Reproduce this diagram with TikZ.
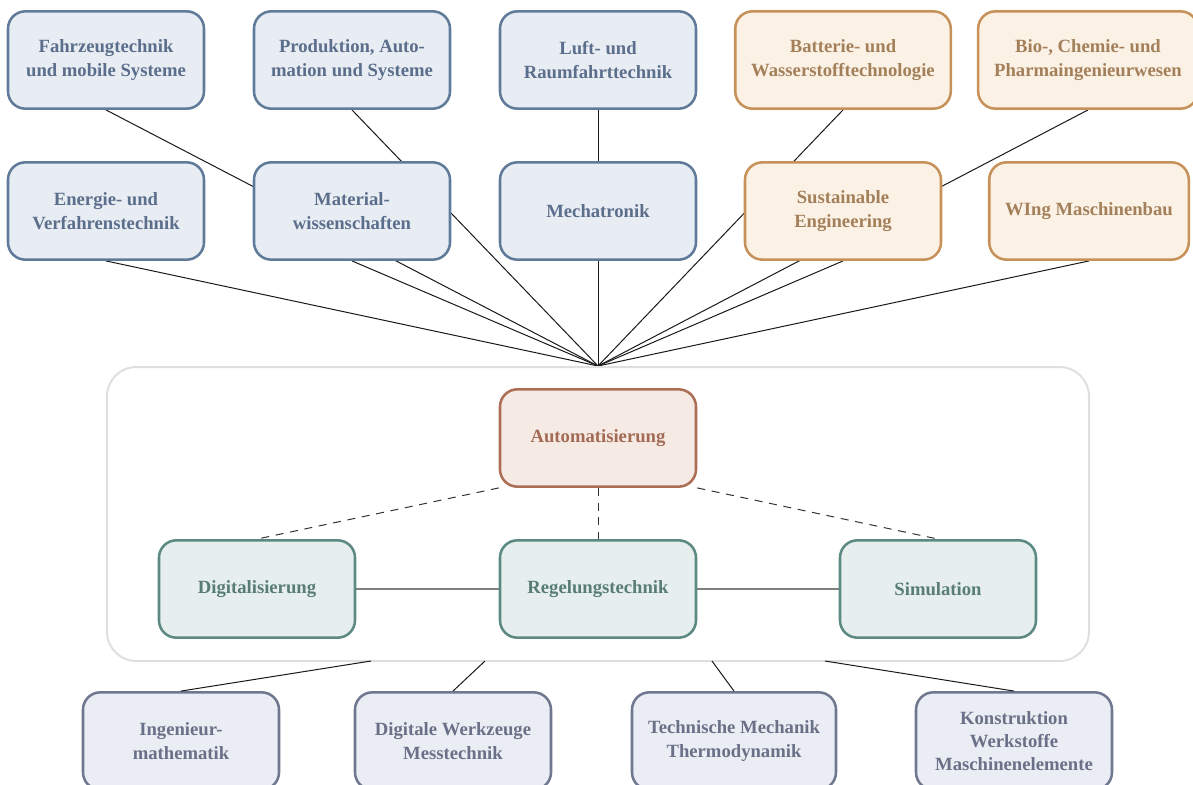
\documentclass[tikz,border=0pt]{standalone}
\usepackage{fontspec}
\setmainfont{Liberation Serif}
\usetikzlibrary{backgrounds}
\definecolor{blufill}{HTML}{E8ECF3}
\definecolor{bluline}{HTML}{5F7B99}
\definecolor{blutext}{HTML}{5B6E8B}
\definecolor{orgfill}{HTML}{FBF1E5}
\definecolor{orgline}{HTML}{C6925A}
\definecolor{orgtext}{HTML}{A3805A}
\definecolor{autfill}{HTML}{F6EAE4}
\definecolor{autline}{HTML}{AC6F55}
\definecolor{auttext}{HTML}{A36A54}
\definecolor{grnfill}{HTML}{E7EFEE}
\definecolor{grnline}{HTML}{5C8A82}
\definecolor{grntext}{HTML}{587C76}
\definecolor{basfill}{HTML}{EAEDF3}
\definecolor{basline}{HTML}{6F7890}
\definecolor{bastext}{HTML}{6A7087}

\begin{document}
\begin{tikzpicture}[x=0.75pt, y=-0.75pt,
      box/.style={rounded corners=13pt, line width=1.9pt, minimum width=147pt,
                  minimum height=73pt, align=center, inner xsep=12pt,
                  font=\fontsize{14}{17.5}\selectfont\bfseries},
      blu/.style={box, fill=blufill, draw=bluline, text=blutext},
      org/.style={box, fill=orgfill, draw=orgline, text=orgtext},
      aut/.style={box, fill=autfill, draw=autline, text=auttext},
      grn/.style={box, fill=grnfill, draw=grnline, text=grntext},
      bas/.style={box, fill=basfill, draw=basline, text=bastext},
      grp/.style={rounded corners=22pt, draw=gray!25, line width=1.5pt,
                  minimum width=736.5pt, minimum height=220.5pt},
      link/.style={line width=0.75pt, black!90},
      dsh/.style={line width=0.75pt, black!80, dash pattern=on 6pt off 5pt},
      peer/.style={line width=1.1pt, gray}
    ]
      \useasboundingbox (0,0) rectangle (1193,785);

      % Studiengaenge
      \node[blu] (fahr) at (106,60) {Fahrzeugtechnik\\und mobile Systeme};
      \node[blu] (prod) at (352,60) {Produktion, Auto-\\mation und Systeme};
      \node[blu] (luft) at (598,60) {Luft- und\\Raumfahrttechnik};
      \node[org] (batt) at (843,60) {Batterie- und\\Wasserstofftechnologie};
      \node[org] (bio) at (1088,60) {Bio-, Chemie- und\\Pharmaingenieurwesen};
      \node[blu] (ener) at (106,211) {Energie- und\\Verfahrenstechnik};
      \node[blu] (mat) at (352,211) {Material-\\wissenschaften};
      \node[blu] (mech) at (598,211) {Mechatronik};
      \node[org] (sust) at (843,211) {Sustainable\\Engineering};
      \node[org] (wing) at (1089,211) {WIng Maschinenbau};

      \coordinate (hub) at (598,366);

      % Vertiefung
      \node[grp] (grp) at (598,514) {};
      \node[aut] (auto) at (598,438) {Automatisierung};
      \node[grn] (dig) at (257,589) {Digitalisierung};
      \node[grn] (reg) at (598,589) {Regelungstechnik};
      \node[grn] (sim) at (938,589) {Simulation};

      % Grundlagen
      \node[bas] (ing) at (181,741) {Ingenieur-\\mathematik};
      \node[bas] (dwz) at (453,741) {Digitale Werkzeuge\\Messtechnik};
      \node[bas] (tm) at (734,741) {Technische Mechanik\\Thermodynamik};
      \node[bas] (kon) at (1014,741) {Konstruktion\\Werkstoffe\\Maschinenelemente};

      \coordinate (g1) at (371,661);
      \coordinate (g2) at (485,661);
      \coordinate (g3) at (712,661);
      \coordinate (g4) at (825,661);

      \begin{scope}[on background layer]
        \draw[link] (fahr.south) -- (hub);
        \draw[link] (prod.south) -- (hub);
        \draw[link] (luft.south) -- (hub);
        \draw[link] (batt.south) -- (hub);
        \draw[link] (bio.south) -- (hub);
        \draw[link] (ener.south) -- (hub);
        \draw[link] (mat.south) -- (hub);
        \draw[link] (mech.south) -- (hub);
        \draw[link] (sust.south) -- (hub);
        \draw[link] (wing.south) -- (hub);

        \draw[peer] (dig) -- (reg);
        \draw[peer] (reg) -- (sim);
      \end{scope}

      \draw[dsh] (auto.south west) -- (dig.north);
      \draw[dsh] (auto.south) -- (reg.north);
      \draw[dsh] (auto.south east) -- (sim.north);

      \draw[link] (g1) -- (ing.north);
      \draw[link] (g2) -- (dwz.north);
      \draw[link] (g3) -- (tm.north);
      \draw[link] (g4) -- (kon.north);
    \end{tikzpicture}
\end{document}
